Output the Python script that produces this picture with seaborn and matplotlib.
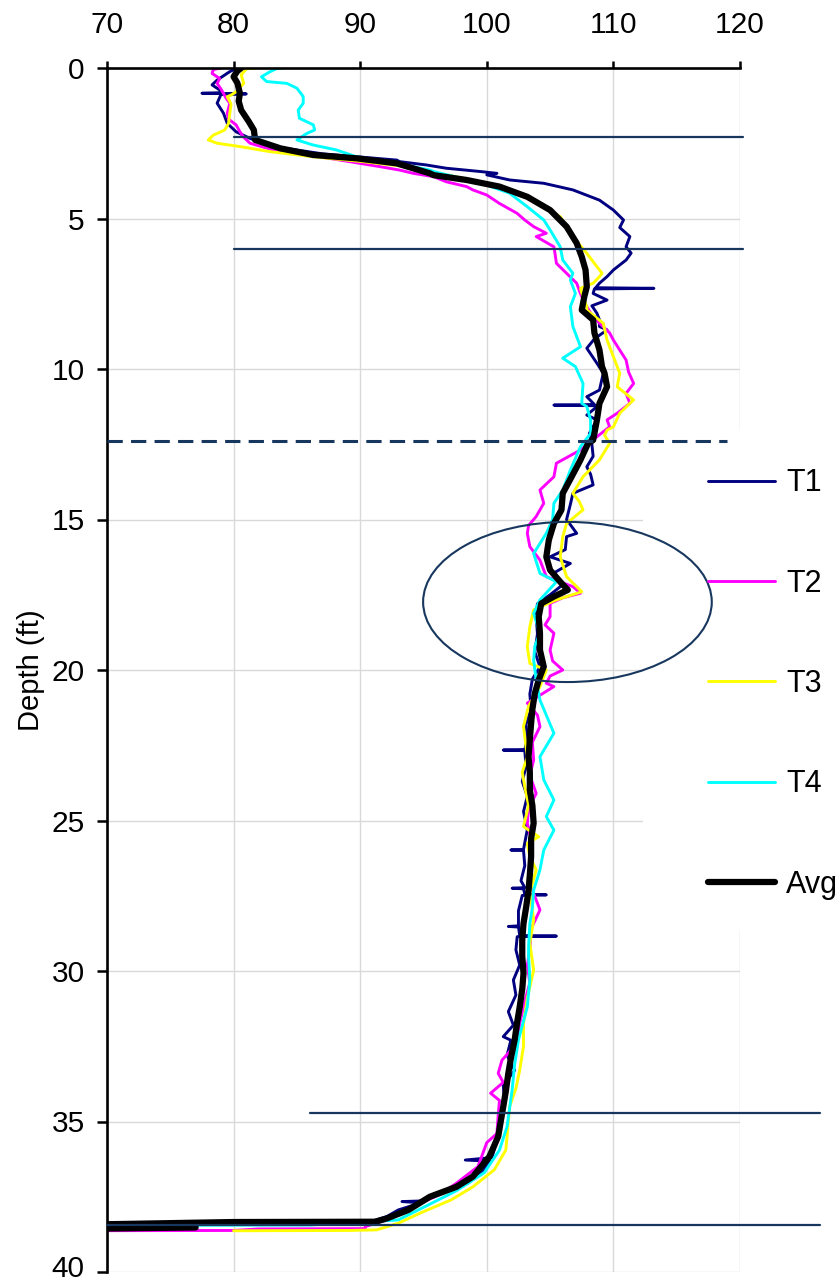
import matplotlib
matplotlib.use("Agg")
import matplotlib.pyplot as plt
import matplotlib.transforms as mtransforms
import seaborn as sns
from matplotlib.patches import Ellipse, Rectangle

# ---------------- data ----------------
t1_depth = [0.0, 0.12, 0.4, 0.56, 0.73, 0.82, 0.84, 0.86, 0.88, 1.17, 1.5, 1.84, 2.12, 2.34, 2.6, 2.85,
            3.06, 3.11, 3.22, 3.33, 3.44, 3.5, 3.55, 3.72, 3.83, 4.05, 4.39, 4.72, 5.05, 5.3, 5.6, 5.94,
            6.15, 6.38, 6.71, 6.93, 7.15, 7.3, 7.32, 7.34, 7.49, 7.71, 7.9, 8.15, 8.37, 8.59, 8.7, 9.0,
            9.31, 9.81, 10.14, 10.7, 10.92, 11.18, 11.2, 11.22, 11.25, 11.53, 11.69, 12.14, 12.5, 12.9,
            13.25, 13.5, 13.85, 14.13, 14.5, 15.0, 15.46, 15.57, 16.0, 16.24, 16.46, 16.8, 17.2, 17.5,
            17.8, 18.2, 18.8, 19.4, 19.9, 20.3, 20.8, 21.3, 21.8, 22.3, 22.64, 22.66, 22.68, 23.2, 23.7,
            24.2, 24.7, 25.3, 25.96, 25.98, 26.0, 26.5, 27.0, 27.23, 27.25, 27.27, 27.45, 27.47, 27.49,
            28.0, 28.5, 28.52, 28.54, 28.82, 28.84, 28.86, 29.3, 29.8, 30.3, 30.8, 31.35, 31.8, 32.18,
            32.3, 32.8, 33.3, 33.8, 34.3, 34.84, 35.5, 36.2, 36.28, 36.32, 36.7, 37.05, 37.3, 37.5,
            37.64, 37.66, 37.7, 37.94, 38.16, 38.3, 38.36, 38.4]
t1_temp = [80.3, 79.7, 78.7, 78.3, 78.9, 79.0, 77.5, 81.0, 79.0, 78.7, 79.2, 79.5, 80.2, 81.3, 83.0, 87.0,
           92.9, 93.1, 95.2, 96.8, 99.5, 100.8, 100.0, 101.8, 104.5, 106.8, 108.9, 110.0, 110.8, 110.5, 111.3, 111.0,
           111.4, 111.0, 110.0, 109.5, 108.9, 108.6, 113.2, 108.5, 108.4, 109.5, 108.3, 108.7, 108.9, 108.9, 109.5, 108.5,
           107.9, 108.7, 109.2, 108.9, 107.9, 108.5, 105.3, 108.7, 108.7, 107.9, 108.7, 108.1, 108.3, 108.4,
           107.9, 108.2, 108.4, 106.8, 106.6, 106.3, 107.1, 106.3, 106.2, 105.0, 106.6, 105.2, 105.9, 105.0,
           104.0, 103.9, 104.0, 103.8, 104.2, 103.6, 103.4, 103.5, 103.1, 103.2, 103.0, 101.3, 103.0, 103.1, 102.8,
           103.2, 102.9, 103.2, 102.9, 101.9, 102.9, 103.0, 102.7, 103.0, 102.0, 102.9, 103.0, 104.7, 102.8,
           102.5, 102.5, 101.7, 102.5, 102.6, 105.5, 102.4, 102.3, 102.6, 102.1, 102.3, 101.7, 102.1, 101.3,
           101.9, 101.6, 102.2, 101.3, 101.4, 101.2, 100.9, 100.4, 98.3, 100.3, 99.6, 98.5, 97.0, 95.5,
           94.8, 93.3, 94.8, 93.0, 92.1, 91.0, 75.0, 60.0]

t2_depth = [0.0, 0.05, 0.18, 0.35, 0.51, 0.7, 0.84, 1.0, 1.17, 1.5, 1.7, 1.89, 2.12, 2.3, 2.5, 2.72, 2.95,
            3.1, 3.28, 3.39, 3.5, 3.61, 3.78, 3.94, 4.05, 4.22, 4.5, 4.83, 5.05, 5.27, 5.49, 5.6, 5.94, 6.2,
            6.49, 6.82, 7.15, 7.5, 7.93, 8.2, 8.48, 8.8, 9.04, 9.37, 9.7, 10.1, 10.48, 10.81, 11.14, 11.47,
            11.69, 11.92, 12.25, 12.69, 13.13, 13.58, 14.02, 14.46, 14.9, 15.2, 15.46, 15.9, 16.35, 16.9,
            17.23, 17.45, 17.6, 17.79, 18.23, 18.5, 18.78, 19.34, 19.7, 20.0, 20.2, 20.44, 20.55, 21.1, 21.5,
            21.88, 22.4, 22.99, 23.5, 24.1, 24.6, 25.09, 25.8, 26.53, 27.2, 27.97, 28.6, 29.3, 29.8, 30.4,
            31.0, 31.74, 32.4, 32.96, 33.4, 33.7, 34.06, 34.3, 34.8, 35.4, 35.7, 36.5, 37.05, 37.4, 37.83,
            38.27, 38.49, 38.56, 38.57, 38.62, 38.63]
t2_temp = [79.0, 78.4, 78.3, 78.9, 78.7, 79.0, 79.2, 79.4, 79.7, 79.5, 79.6, 80.2, 80.5, 80.8, 81.3, 83.1, 86.8,
           89.0, 91.6, 93.1, 94.2, 95.8, 96.8, 98.4, 98.9, 100.0, 101.0, 102.4, 103.0, 103.7, 104.7, 103.9, 105.3, 105.4,
           105.5, 106.3, 107.1, 107.4, 107.9, 108.3, 108.9, 109.7, 110.0, 110.5, 111.0, 111.2, 111.6, 111.0, 111.3, 110.3,
           109.5, 109.7, 108.7, 107.4, 105.5, 105.3, 104.2, 104.5, 103.9, 103.3, 103.2, 103.4, 104.2, 104.7,
           106.8, 107.4, 106.0, 105.0, 105.0, 104.6, 105.3, 105.0, 105.2, 106.0, 105.0, 104.7, 105.3, 103.2, 104.0,
           104.2, 103.6, 103.7, 103.4, 103.9, 103.3, 103.2, 103.6, 103.4, 103.5, 104.2, 103.5, 103.4, 103.2, 103.4,
           103.0, 102.6, 102.4, 101.2, 100.9, 101.3, 100.3, 101.0, 100.9, 100.8, 100.0, 99.3, 97.6, 96.4, 94.2,
           92.1, 90.4, 90.4, 82.0, 80.0, 66.0]

t3_depth = [0.0, 0.03, 0.23, 0.51, 0.79, 0.9, 0.95, 1.2, 1.5, 1.84, 2.06, 2.23, 2.39, 2.5, 2.61, 2.78, 2.95,
            3.11, 3.28, 3.55, 3.78, 3.83, 4.28, 4.94, 5.6, 6.16, 6.38, 6.71, 6.82, 6.93, 7.15, 7.32, 7.6, 7.93,
            8.04, 8.48, 9.04, 9.59, 10.14, 10.59, 11.03, 11.14, 11.47, 11.92, 12.03, 12.2, 12.47, 13.02, 13.58,
            14.13, 14.4, 14.68, 15.13, 15.57, 16.24, 16.9, 17.4, 17.67, 18.0, 18.56, 19.22, 19.78, 20.0, 20.55,
            21.2, 21.88, 22.88, 23.4, 23.88, 24.5, 25.2, 25.54, 25.76, 26.2, 26.64, 27.4, 28.3, 29.08, 29.97,
            30.9, 31.74, 32.5, 33.29, 33.9, 34.51, 35.5, 35.95, 36.6, 37.17, 37.6, 38.05, 38.38, 38.6, 38.62,
            38.63]
t3_temp = [81.7, 81.0, 80.6, 80.8, 80.2, 79.8, 79.5, 79.8, 79.7, 79.6, 79.3, 78.4, 78.0, 78.7, 80.5, 82.9, 86.3,
           90.2, 93.7, 96.8, 99.5, 99.7, 103.2, 105.8, 106.8, 107.9, 108.3, 108.9, 109.1, 108.9, 108.4, 107.4, 107.6, 107.9,
           107.9, 109.2, 109.5, 110.0, 110.5, 110.3, 111.6, 111.3, 110.5, 110.0, 109.5, 109.3, 109.7, 108.9, 107.6,
           106.8, 107.3, 107.6, 106.3, 106.0, 105.8, 106.3, 107.5, 105.5, 103.7, 103.4, 103.2, 103.4, 104.7, 104.2,
           103.3, 102.9, 103.2, 102.8, 103.0, 103.3, 102.9, 104.1, 103.2, 103.4, 103.9, 103.4, 103.7, 103.4, 103.7,
           103.2, 102.9, 102.9, 102.6, 102.3, 101.8, 101.6, 101.5, 100.6, 98.9, 97.2, 94.7, 93.0, 91.3, 89.2,
           80.0]

t4_depth = [0.0, 0.02, 0.12, 0.29, 0.45, 0.51, 0.67, 0.95, 1.17, 1.4, 1.67, 1.89, 2.06, 2.17, 2.39, 2.56,
            2.72, 2.95, 3.17, 3.39, 3.44, 3.83, 4.16, 4.61, 5.05, 5.38, 5.94, 6.38, 6.82, 7.04, 7.49, 7.93,
            8.59, 9.26, 9.64, 9.92, 10.48, 11.14, 11.25, 11.69, 12.14, 12.58, 13.36, 14.02, 14.46, 15.0, 15.46,
            16.13, 16.79, 17.07, 17.3, 17.67, 18.12, 18.78, 19.2, 19.67, 20.33, 21.0, 21.5, 22.1, 22.88, 23.65,
            24.32, 24.87, 25.32, 25.98, 26.64, 27.31, 27.9, 28.42, 29.19, 29.52, 30.3, 31.19, 32.29, 33.1,
            33.95, 35.17, 35.95, 36.7, 37.3, 37.83, 38.27, 38.44, 38.45, 38.46]
t4_temp = [83.9, 83.4, 82.9, 82.2, 82.6, 84.2, 85.0, 85.5, 85.5, 85.1, 85.2, 86.3, 86.4, 85.8, 85.0, 86.3,
           88.1, 89.7, 92.9, 95.5, 95.8, 99.6, 101.8, 103.2, 104.5, 105.0, 105.8, 106.0, 106.8, 106.6, 107.0, 106.6,
           106.8, 107.4, 106.0, 107.0, 107.6, 107.5, 107.9, 108.2, 108.2, 107.4, 106.6, 106.0, 105.3, 105.2, 104.7,
           103.7, 104.2, 105.5, 105.0, 104.2, 103.7, 104.2, 103.8, 103.7, 103.9, 104.2, 104.7, 105.3, 104.2, 104.5,
           105.3, 104.7, 105.3, 104.5, 104.2, 103.7, 103.6, 103.4, 103.3, 103.3, 103.4, 103.2, 102.5, 102.2,
           102.0, 101.6, 101.0, 99.8, 97.6, 95.1, 93.0, 86.0, 70.0, 60.0]

avg_depth = [0.0, 0.1, 0.29, 0.5, 0.84, 1.1, 1.4, 1.78, 2.06, 2.39, 2.67, 2.89, 3.0, 3.17, 3.5, 3.56, 3.72,
             3.94, 4.28, 4.72, 5.27, 5.82, 6.27, 6.71, 7.27, 7.6, 8.04, 8.37, 8.8, 9.37, 9.92, 10.14, 10.59,
             11.14, 11.69, 12.36, 12.47, 13.02, 13.58, 14.13, 14.68, 15.13, 15.68, 16.24, 16.68, 17.07, 17.34,
             17.56, 17.79, 18.23, 18.78, 19.34, 19.89, 20.33, 20.77, 21.3, 21.77, 22.3, 22.88, 23.4, 23.99,
             24.5, 25.09, 25.6, 26.2, 26.8, 27.31, 27.9, 28.42, 28.97, 29.5, 30.08, 30.6, 31.19, 31.7, 32.29,
             32.9, 33.4, 34.0, 34.51, 35.0, 35.5, 36.17, 36.83, 37.17, 37.5, 37.94, 38.22, 38.33, 38.34, 38.45,
             38.58, 38.52]
avg_temp = [80.6, 80.3, 80.0, 80.3, 80.5, 80.4, 80.6, 81.2, 81.6, 81.7, 83.7, 86.3, 89.7, 92.9, 95.5, 95.8, 98.4,
            101.0, 103.2, 105.0, 106.3, 107.1, 107.5, 107.8, 107.9, 107.7, 107.5, 108.4, 108.5, 108.9, 109.1, 109.3, 109.5,
            108.9, 108.7, 108.4, 108.0, 107.4, 106.7, 106.0, 105.9, 105.3, 104.9, 104.7, 105.0, 105.8, 106.4,
            105.3, 104.3, 104.1, 104.2, 104.2, 104.5, 104.1, 103.8, 103.6, 103.5, 103.4, 103.3, 103.4, 103.4,
            103.6, 103.7, 103.5, 103.5, 103.4, 103.3, 103.1, 102.9, 102.8, 102.8, 102.9, 102.8, 102.6, 102.4, 102.2,
            101.9, 101.7, 101.5, 101.3, 101.1, 100.9, 100.2, 98.9, 97.6, 95.5, 93.8, 92.1, 91.2, 80.0, 65.0,
            65.0, 77.0]

series_names = ["T1", "T2", "T3", "T4", "Avg"]
series_colors = ["#000080", "#FF00FF", "#FFFF00", "#00FFFF", "#000000"]
series_widths = [2.1, 2.1, 2.1, 2.1, 4.5]

# annotation lines: depth, x start, x end
ref_depths = [2.3, 6.0, 34.72, 38.44]
ref_x0 = [80.0, 80.0, 86.0, 70.0]
ref_x1 = [120.2, 120.2, 126.3, 126.3]
dash_depth = 12.4
dash_x = [70.0, 119.0]
ellipse_center = (106.37, 17.74)
ellipse_size = (22.8, 5.32)

x_ticks = [70, 80, 90, 100, 110, 120]
y_ticks = [0, 5, 10, 15, 20, 25, 30, 35, 40]

# ---------------- drawing ----------------
sns.set_style("white")
plt.rcParams["font.family"] = ["Liberation Sans", "DejaVu Sans"]
plt.rcParams["text.color"] = "black"
FS = 21.5
REF = "#17375E"

fig = plt.figure(figsize=(8.4, 12.83), dpi=100)
ax = fig.add_axes([107 / 840, 1 - 1272 / 1283, (740 - 107) / 840, (1272 - 68) / 1283])

ax.grid(True, color="#d9d9d9", lw=1.0, zorder=0)
ax.set_axisbelow(True)

# white block behind the legend (hides grid there)
ax.add_patch(Rectangle((643 / 840, 1 - 930 / 1283), (840 - 643) / 840, 500 / 1283,
                       transform=fig.transFigure, facecolor="white", edgecolor="none",
                       zorder=1, clip_on=False))

all_series = [(t1_temp, t1_depth), (t2_temp, t2_depth), (t3_temp, t3_depth),
              (t4_temp, t4_depth), (avg_temp, avg_depth)]
for (xv, yv), name, col, lw in zip(all_series, series_names, series_colors, series_widths):
    sns.lineplot(x=xv, y=yv, sort=False, estimator=None, color=col, lw=lw,
                 label=name, ax=ax, zorder=2)

for d, a, b in zip(ref_depths, ref_x0, ref_x1):
    ax.plot([a, b], [d, d], color=REF, lw=1.6, clip_on=False, zorder=3)
ax.plot(dash_x, [dash_depth, dash_depth], color=REF, lw=2.2, dashes=(5, 2.7),
        clip_on=False, zorder=3)
ax.add_patch(Ellipse(ellipse_center, ellipse_size[0], ellipse_size[1],
                     facecolor="none", edgecolor=REF, lw=1.5, zorder=3))

ax.set_xlim(70, 120)
ax.set_ylim(40, 0)
ax.set_xticks(x_ticks)
ax.set_yticks(y_ticks)
ax.xaxis.tick_top()
ax.tick_params(axis="x", top=True, bottom=False, direction="out", length=4.7, width=1.8,
               pad=16, labelsize=FS, colors="black")
ax.tick_params(axis="y", left=True, direction="out", length=7, width=1.8, pad=9,
               labelsize=FS, colors="black")
ax.set_xlabel("")
ax.set_ylabel("Depth (ft)", fontsize=FS - 0.5, labelpad=5, color="black")

# nudge the bottom "40" label up slightly so it stays inside the canvas
last_lbl = ax.get_yticklabels()[-1]
last_lbl.set_transform(last_lbl.get_transform() +
                       mtransforms.ScaledTranslation(0, 6 / 100, fig.dpi_scale_trans))

for s in ["bottom", "right"]:
    ax.spines[s].set_visible(False)
for s in ["top", "left"]:
    ax.spines[s].set_visible(True)
    ax.spines[s].set_color("black")
    ax.spines[s].set_linewidth(1.9)

handles, labels = ax.get_legend_handles_labels()
ax.legend(handles, labels, loc="center left", bbox_to_anchor=(708 / 840, 1 - 684 / 1283),
          bbox_transform=fig.transFigure, frameon=False, fontsize=FS + 0.5,
          handlelength=2.2, handletextpad=0.35, labelspacing=2.3, borderpad=0,
          borderaxespad=0, labelcolor="black")

fig.savefig("out.png", dpi=100)
